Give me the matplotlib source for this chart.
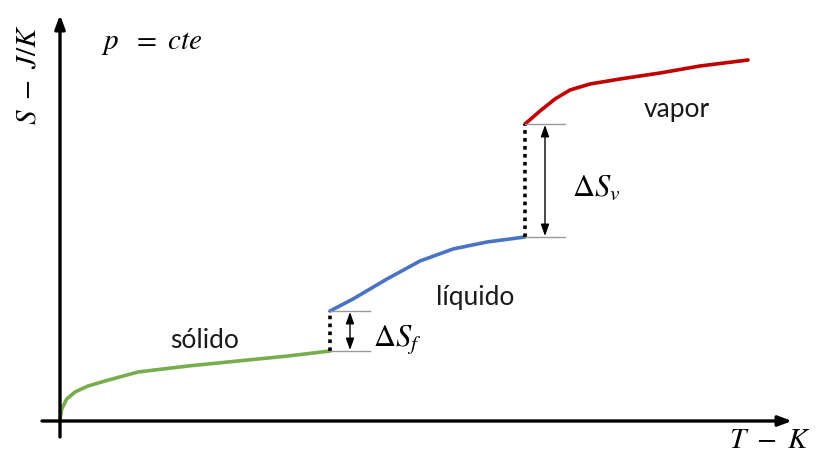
import matplotlib.pyplot as plt

plt.rcParams["mathtext.fontset"] = "stix"

# temperature / entropy samples along each phase (arbitrary units)
T_solid = [0, 1.7, 6.7, 15, 28, 45, 78, 128, 178, 228, 270]
S_solid = [1, 12, 22, 29, 35, 40, 49, 55, 60, 65, 70]

T_liquid = [270, 293, 327, 360, 393, 427, 465]
S_liquid = [110, 122, 142, 160, 172, 179, 184]

T_vapor = [465, 480, 495, 510, 530, 560, 600, 640, 688]
S_vapor = [297, 310, 322, 331, 337, 342, 348, 355, 361]

T_fusion, T_boil = 270, 465

fig = plt.figure(figsize=(8.19, 4.6), dpi=100)
ax = fig.add_axes([0, 0, 1, 1])
ax.set_xlim(-60, 759)
ax.set_ylim(-38, 422)
ax.axis("off")

# axes with arrowheads
arrow = dict(arrowstyle="-|>,head_length=0.8,head_width=0.3", color="black", lw=2.4,
             shrinkA=0, shrinkB=0)
ax.annotate("", xy=(0, 406), xytext=(0, -16), arrowprops=arrow)
ax.annotate("", xy=(732, 0), xytext=(-18, 0), arrowprops=arrow)

# phase curves
curve = dict(lw=2.6, solid_capstyle="round", solid_joinstyle="round")
ax.plot(T_solid, S_solid, color="#77AD4E", **curve)
ax.plot(T_liquid, S_liquid, color="#4A74C2", **curve)
ax.plot(T_vapor, S_vapor, color="#C00000", **curve)

# entropy jumps at the phase transitions
jumps = [(T_fusion, S_solid[-1], S_liquid[0]), (T_boil, S_liquid[-1], S_vapor[0])]
for T, s_lo, s_hi in jumps:
    ax.plot([T, T], [s_lo, s_hi], color="black", lw=2.6, linestyle=(0, (1, 1.2)))
    ax.plot([T, T + 40], [s_lo, s_lo], color="#999999", lw=1.0)
    ax.plot([T, T + 40], [s_hi, s_hi], color="#999999", lw=1.0)
    ax.annotate("", xy=(T + 20, s_hi - 1), xytext=(T + 20, s_lo + 1),
                arrowprops=dict(arrowstyle="<|-|>,head_length=0.7,head_width=0.25",
                                color="black", lw=1.0, shrinkA=0, shrinkB=0))

label_font = dict(family="Lato", fontsize=19, color="#1a1a1a")
ax.text(145, 82, "sólido", ha="center", va="center", **label_font)
ax.text(415, 125, "líquido", ha="center", va="center", **label_font)
ax.text(617, 312, "vapor", ha="center", va="center", **label_font)

ax.text(T_fusion + 43, 82, r"$\Delta S_f$", ha="left", va="center", fontsize=22)
ax.text(T_boil + 47, 234, r"$\Delta S_v$", ha="left", va="center", fontsize=22)

ax.text(41, 379, r"$p\ \ =\ cte$", ha="left", va="center", fontsize=21)
ax.text(-32, 348, r"$S\ -\ J/K$", ha="center", va="center", rotation=90, fontsize=21)
ax.text(710, -18, r"$T\ -\ K$", ha="center", va="center", fontsize=21)

fig.savefig("out.png", dpi=100)
